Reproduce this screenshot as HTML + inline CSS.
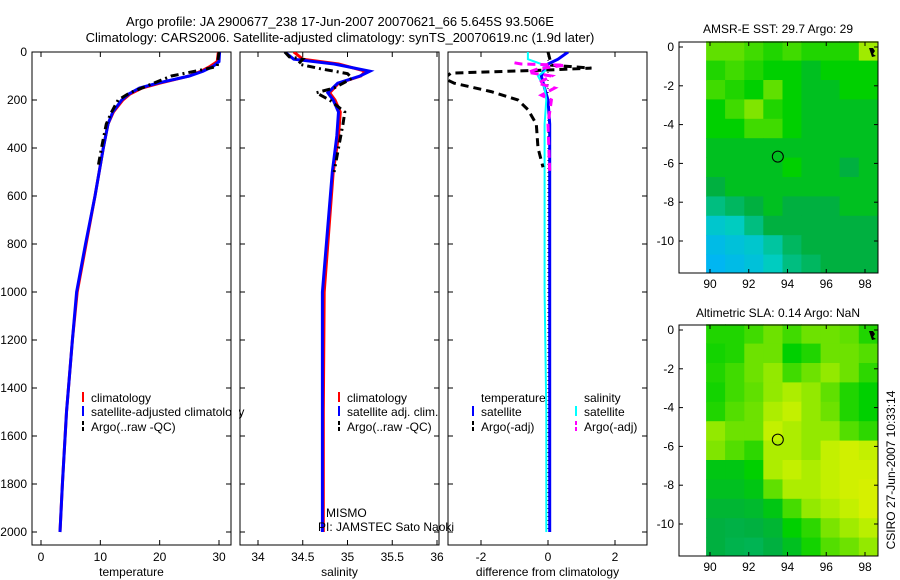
<!DOCTYPE html>
<html><head><meta charset="utf-8">
<style>
body{margin:0;background:#fff;}
svg{display:block;font-family:"Liberation Sans",sans-serif;}
text{font-size:12px;fill:#000;}
</style></head>
<body>
<svg id="fig" width="900" height="580" viewBox="0 0 900 580" xmlns="http://www.w3.org/2000/svg">
<text x="340" y="26" text-anchor="middle" style="font-size:13px">Argo profile: JA 2900677_238 17-Jun-2007 20070621_66 5.645S 93.506E</text>
<text x="340" y="42" text-anchor="middle" style="font-size:13px">Climatology: CARS2006. Satellite-adjusted climatology: synTS_20070619.nc (1.9d later)</text>
<text x="778" y="33" text-anchor="middle">AMSR-E SST: 29.7 Argo: 29</text>
<text x="778" y="317" text-anchor="middle">Altimetric SLA: 0.14 Argo: NaN</text>
<text transform="translate(895,470) rotate(-90)" text-anchor="middle">CSIRO 27-Jun-2007 10:33:14</text>
<g id="g"></g>
</svg>
<script>
// ---- data ----
const depthTicks=[0,200,400,600,800,1000,1200,1400,1600,1800,2000];
const tempTicks=[0,10,20,30];
const salTicks=[34,34.5,35,35.5,36];
const diffTicks=[-2,0,2];
const lonTicks=[90,92,94,96,98];
const latTicks=[0,-2,-4,-6,-8,-10];

const climDepth=[0,40,60,80,100,130,150,175,200,250,300,400,600,800,1000,1200,1500,1800,2000];
const climTemp=[29.9,29.7,28.5,27,25,20,17,15,13.8,12.2,11.3,10.5,9.1,7.6,6.1,5.3,4.3,3.6,3.2];
const satTemp=[30.1,30,29,27.3,25,19.6,16.6,14.8,13.6,12.1,11.3,10.5,9.1,7.5,6.0,5.3,4.3,3.6,3.2];
const argoDepth=[0,60,75,100,130,170,200,250,300,400,480];
const argoTemp=[30,29.7,27,22,19,15,13,11.9,11,10.2,9.6];

const salDepth=[0,30,50,80,100,130,170,200,250,350,500,1000,1500,2000];
const climSal=[34.4,34.5,34.9,35.2,35.15,34.9,34.8,34.86,34.92,34.9,34.84,34.74,34.73,34.73];
const satSal=[34.3,34.4,34.85,35.25,35.14,34.89,34.78,34.84,34.9,34.88,34.83,34.72,34.72,34.72];
const argoSalDepth=[0,20,30,50,70,90,110,150,170,200,250,300,400,500];
const argoSal=[34.3,34.35,34.5,34.45,34.7,35.0,35.05,34.85,34.65,34.8,34.97,34.95,34.9,34.85];

const dDepth=[0,30,50,70,100,150,200,300,500,1000,1500,2000];
const satTDiff=[0.6,0.3,0.0,-0.1,-0.2,-0.1,0,0.05,0.05,0.05,0.05,0.05];
const satSDiff=[-0.6,-0.6,-0.2,0.0,-0.3,-0.1,-0.05,-0.1,-0.1,-0.1,-0.05,-0.05];
const argoTDepth=[0,55,67,75,88,110,130,165,200,240,300,400,480];
const argoTDiff=[0,0.1,1.3,0,-2.9,-3.1,-2.8,-1.7,-0.9,-0.6,-0.35,-0.3,-0.15];
const argoSDepth=[45,50,55,70,85,100,130,150,180,200,300,500];
const argoSDiff=[-1.0,-0.8,0.5,-0.3,-0.6,0.1,-0.3,0.2,-0.2,0.1,0.0,0.05];

const mapLons=[89.8,90.78,91.77,92.75,93.74,94.72,95.71,96.69,97.68];
const mapLats=[0.3,-0.7,-1.7,-2.7,-3.7,-4.7,-5.7,-6.7,-7.7,-8.7,-9.7,-10.7];
const sstGrid=[
[.7,.7,.65,.6,.65,.6,.6,.6,.8],
[.6,.65,.6,.55,.55,.5,.55,.55,.55],
[.65,.6,.55,.7,.55,.5,.5,.55,.55],
[.55,.65,.75,.6,.55,.5,.5,.5,.5],
[.55,.55,.65,.65,.55,.5,.5,.5,.5],
[.5,.5,.5,.5,.5,.5,.5,.5,.5],
[.5,.5,.5,.5,.55,.5,.5,.45,.5],
[.45,.5,.5,.5,.5,.5,.5,.5,.5],
[.35,.4,.45,.5,.45,.45,.45,.5,.5],
[.2,.25,.35,.45,.45,.45,.45,.45,.45],
[.1,.15,.2,.3,.4,.45,.45,.45,.45],
[.05,.1,.15,.25,.35,.4,.45,.45,.45]];
const slaGrid=[
[.6,.6,.65,.72,.65,.72,.72,.7,.6],
[.58,.6,.72,.72,.55,.6,.72,.72,.68],
[.6,.65,.72,.78,.65,.72,.78,.72,.62],
[.58,.65,.7,.78,.82,.78,.7,.6,.55],
[.6,.68,.72,.82,.86,.78,.72,.6,.55],
[.78,.72,.72,.86,.82,.78,.78,.68,.62],
[.75,.68,.62,.82,.82,.78,.86,.9,.86],
[.52,.52,.55,.82,.86,.82,.86,.9,.9],
[.5,.5,.52,.7,.82,.82,.86,.9,.92],
[.47,.47,.48,.52,.66,.78,.82,.86,.92],
[.45,.44,.45,.47,.55,.62,.74,.8,.84],
[.45,.43,.42,.45,.5,.58,.68,.72,.78]];
const floatLon=93.5, floatLat=-5.65;

// ---- drawing ----
const NS="http://www.w3.org/2000/svg";
const G=document.getElementById('g');
function mk(tag,at,parent){const e=document.createElementNS(NS,tag);for(const k in at)e.setAttribute(k,at[k]);(parent||G).appendChild(e);return e;}
function lin(d0,d1,r0,r1){return v=>r0+(v-d0)*(r1-r0)/(d1-d0);}
const yD=lin(0,2000,52,532);
const panels=[
 {x0:32,x1:231,sx:lin(0,30,41,219),ticks:tempTicks,lab:'temperature',name:'temperature'},
 {x0:240,x1:439,sx:lin(34,36,258,437),ticks:salTicks,lab:'salinity',name:'salinity'},
 {x0:448,x1:647,sx:lin(-2,2,481,615),ticks:diffTicks,lab:'difference from climatology',name:'difference'}];
panels.forEach((p,i)=>{
 const fr=mk('rect',{x:p.x0,y:52,width:p.x1-p.x0,height:493,fill:'none',stroke:'#000'});
 
 
 p.ticks.forEach(t=>{const x=p.sx(t);mk('line',{x1:x,x2:x,y1:52,y2:57,stroke:'#000'});mk('line',{x1:x,x2:x,y1:545,y2:540,stroke:'#000'});
  const tx=mk('text',{x:x,y:561,'text-anchor':'middle'});tx.textContent=t;
  
  });
 depthTicks.forEach(d=>{const y=yD(d);mk('line',{x1:p.x0,x2:p.x0+5,y1:y,y2:y,stroke:'#000'});mk('line',{x1:p.x1,x2:p.x1-5,y1:y,y2:y,stroke:'#000'});
  if(i==0){const tx=mk('text',{x:27,y:y+4,'text-anchor':'end'});tx.textContent=d;
  
  }});
 const xl=mk('text',{x:(p.x0+p.x1)/2,y:576,'text-anchor':'middle'});xl.textContent=p.lab;
 
 
 const cp=mk('clipPath',{id:'c'+i});
 mk('rect',{x:p.x0,y:52,width:p.x1-p.x0,height:493},cp);
});
function line(pi,xs,ds,color,w,dash,name){
 const p=panels[pi];const pts=xs.map((v,k)=>p.sx(v).toFixed(1)+','+yD(ds[k]).toFixed(1)).join(' ');
 const e=mk('polyline',{points:pts,fill:'none',stroke:color,'stroke-width':w,'clip-path':'url(#c'+pi+')'});
 if(dash)e.setAttribute('stroke-dasharray',dash);
 
 
}
line(0,climTemp,climDepth,'#f00',3,null,'climatology-temp-line');
line(0,satTemp,climDepth,'#00f',3,null,'satellite-temp-line');
line(0,argoTemp,argoDepth,'#000',3,'8,4,2,4','argo-temp-line');
line(1,climSal,salDepth,'#f00',3,null,'climatology-sal-line');
line(1,satSal,salDepth,'#00f',3,null,'satellite-sal-line');
line(1,argoSal,argoSalDepth,'#000',3,'8,4,2,4','argo-sal-line');
line(2,dDepth.map(()=>0),dDepth,'#000',1,'1,3','zero-ref-line');
line(2,satTDiff,dDepth,'#00f',3,null,'satellite-temp-diff-line');
line(2,satSDiff,dDepth,'#0ff',2,null,'satellite-sal-diff-line');
line(2,argoTDiff,argoTDepth,'#000',3,'8,5','argo-temp-diff-line');
line(2,argoSDiff,argoSDepth,'#f0f',3,'8,5','argo-sal-diff-line');

function leg(x,y,color,txt,name,dash){
 const m=mk('line',{x1:x,x2:x,y1:y-10,y2:y,stroke:color,'stroke-width':2});
 if(dash)m.setAttribute('stroke-dasharray',dash);
 const t=mk('text',{x:x+8,y:y});t.textContent=txt;
 
 
}
leg(83,402,'#f00','climatology','legend-climatology');
leg(83,416,'#00f','satellite-adjusted climatology','legend-satellite-adjusted');
leg(83,431,'#000','Argo(..raw -QC)','legend-argo','4,2');
leg(339,402,'#f00','climatology','legend-sal-climatology');
leg(339,416,'#00f','satellite adj. clim.','legend-sal-satellite');
leg(339,431,'#000','Argo(..raw -QC)','legend-sal-argo','4,2');
let t=mk('text',{x:481,y:402});t.textContent='temperature';


t=mk('text',{x:584,y:402});t.textContent='salinity';


leg(473,416,'#00f','satellite','legend-diff-temp-satellite');
leg(473,431,'#000','Argo(-adj)','legend-diff-temp-argo','4,2');
leg(576,416,'#0ff','satellite','legend-diff-sal-satellite');
leg(576,431,'#f0f','Argo(-adj)','legend-diff-sal-argo','4,2');
mk('rect',{x:232,y:380,width:7,height:60,fill:'#fff'});
mk('line',{x1:231,x2:231,y1:380,y2:440,stroke:'#000'});
t=mk('text',{x:326,y:517});t.textContent='MISMO';


t=mk('text',{x:318,y:531});t.textContent='PI: JAMSTEC Sato Naoki';



// ---- maps ----
const stops=[[0,[0,176,255]],[0.25,[0,204,192]],[0.45,[0,176,64]],[0.55,[0,208,0]],[0.7,[96,224,0]],[0.85,[192,240,0]],[1,[240,240,0]]];
function cmap(v){for(let k=1;k<stops.length;k++){if(v<=stops[k][0]){const a=stops[k-1],b=stops[k],f=(v-a[0])/(b[0]-a[0]);return 'rgb('+a[1].map((c,j)=>Math.round(c+(b[1][j]-c)*f)).join(',')+')';}}return 'rgb(240,240,0)';}
function map(top,grid,name){
 const sx=lin(90,98,710,865), sy=v=>top+5+(-v)*19.4;
 const bottom=top+231;
 grid.forEach((row,r)=>row.forEach((v,c)=>{
  const x0=sx(mapLons[c]), x1=c+1<mapLons.length?sx(mapLons[c+1]):878;
  const y0=sy(mapLats[r]), y1=Math.min(bottom,sy(mapLats[r]-1));
  const e=mk('rect',{x:x0.toFixed(1),y:y0.toFixed(1),width:(x1-x0+0.5).toFixed(1),height:(y1-y0+0.5).toFixed(1),fill:cmap(v)});
  
  
 }));
 const fr=mk('rect',{x:679,y:top,width:199,height:231,fill:'none',stroke:'#000'});
 
 
 lonTicks.forEach(l=>{const x=sx(l);mk('line',{x1:x,x2:x,y1:top,y2:top+4,stroke:'#000'});mk('line',{x1:x,x2:x,y1:bottom,y2:bottom-4,stroke:'#000'});
  const tx=mk('text',{x:x,y:bottom+15,'text-anchor':'middle'});tx.textContent=l;
  
  });
 latTicks.forEach(l=>{const y=sy(l);mk('line',{x1:679,x2:683,y1:y,y2:y,stroke:'#000'});mk('line',{x1:878,x2:874,y1:y,y2:y,stroke:'#000'});
  const tx=mk('text',{x:674,y:y+4,'text-anchor':'end'});tx.textContent=l;
  
  });
 const c=mk('circle',{cx:sx(floatLon),cy:sy(floatLat),r:5.5,fill:'none',stroke:'#000'});
 
 
 mk('path',{d:'M869 '+(top+6)+' l4 0 l2 3 l-2 3 l3 2 l-4 1 z',fill:'#000'});
}
map(42,sstGrid,'sst-map');
map(325,slaGrid,'sla-map');
</script>
</body></html>
